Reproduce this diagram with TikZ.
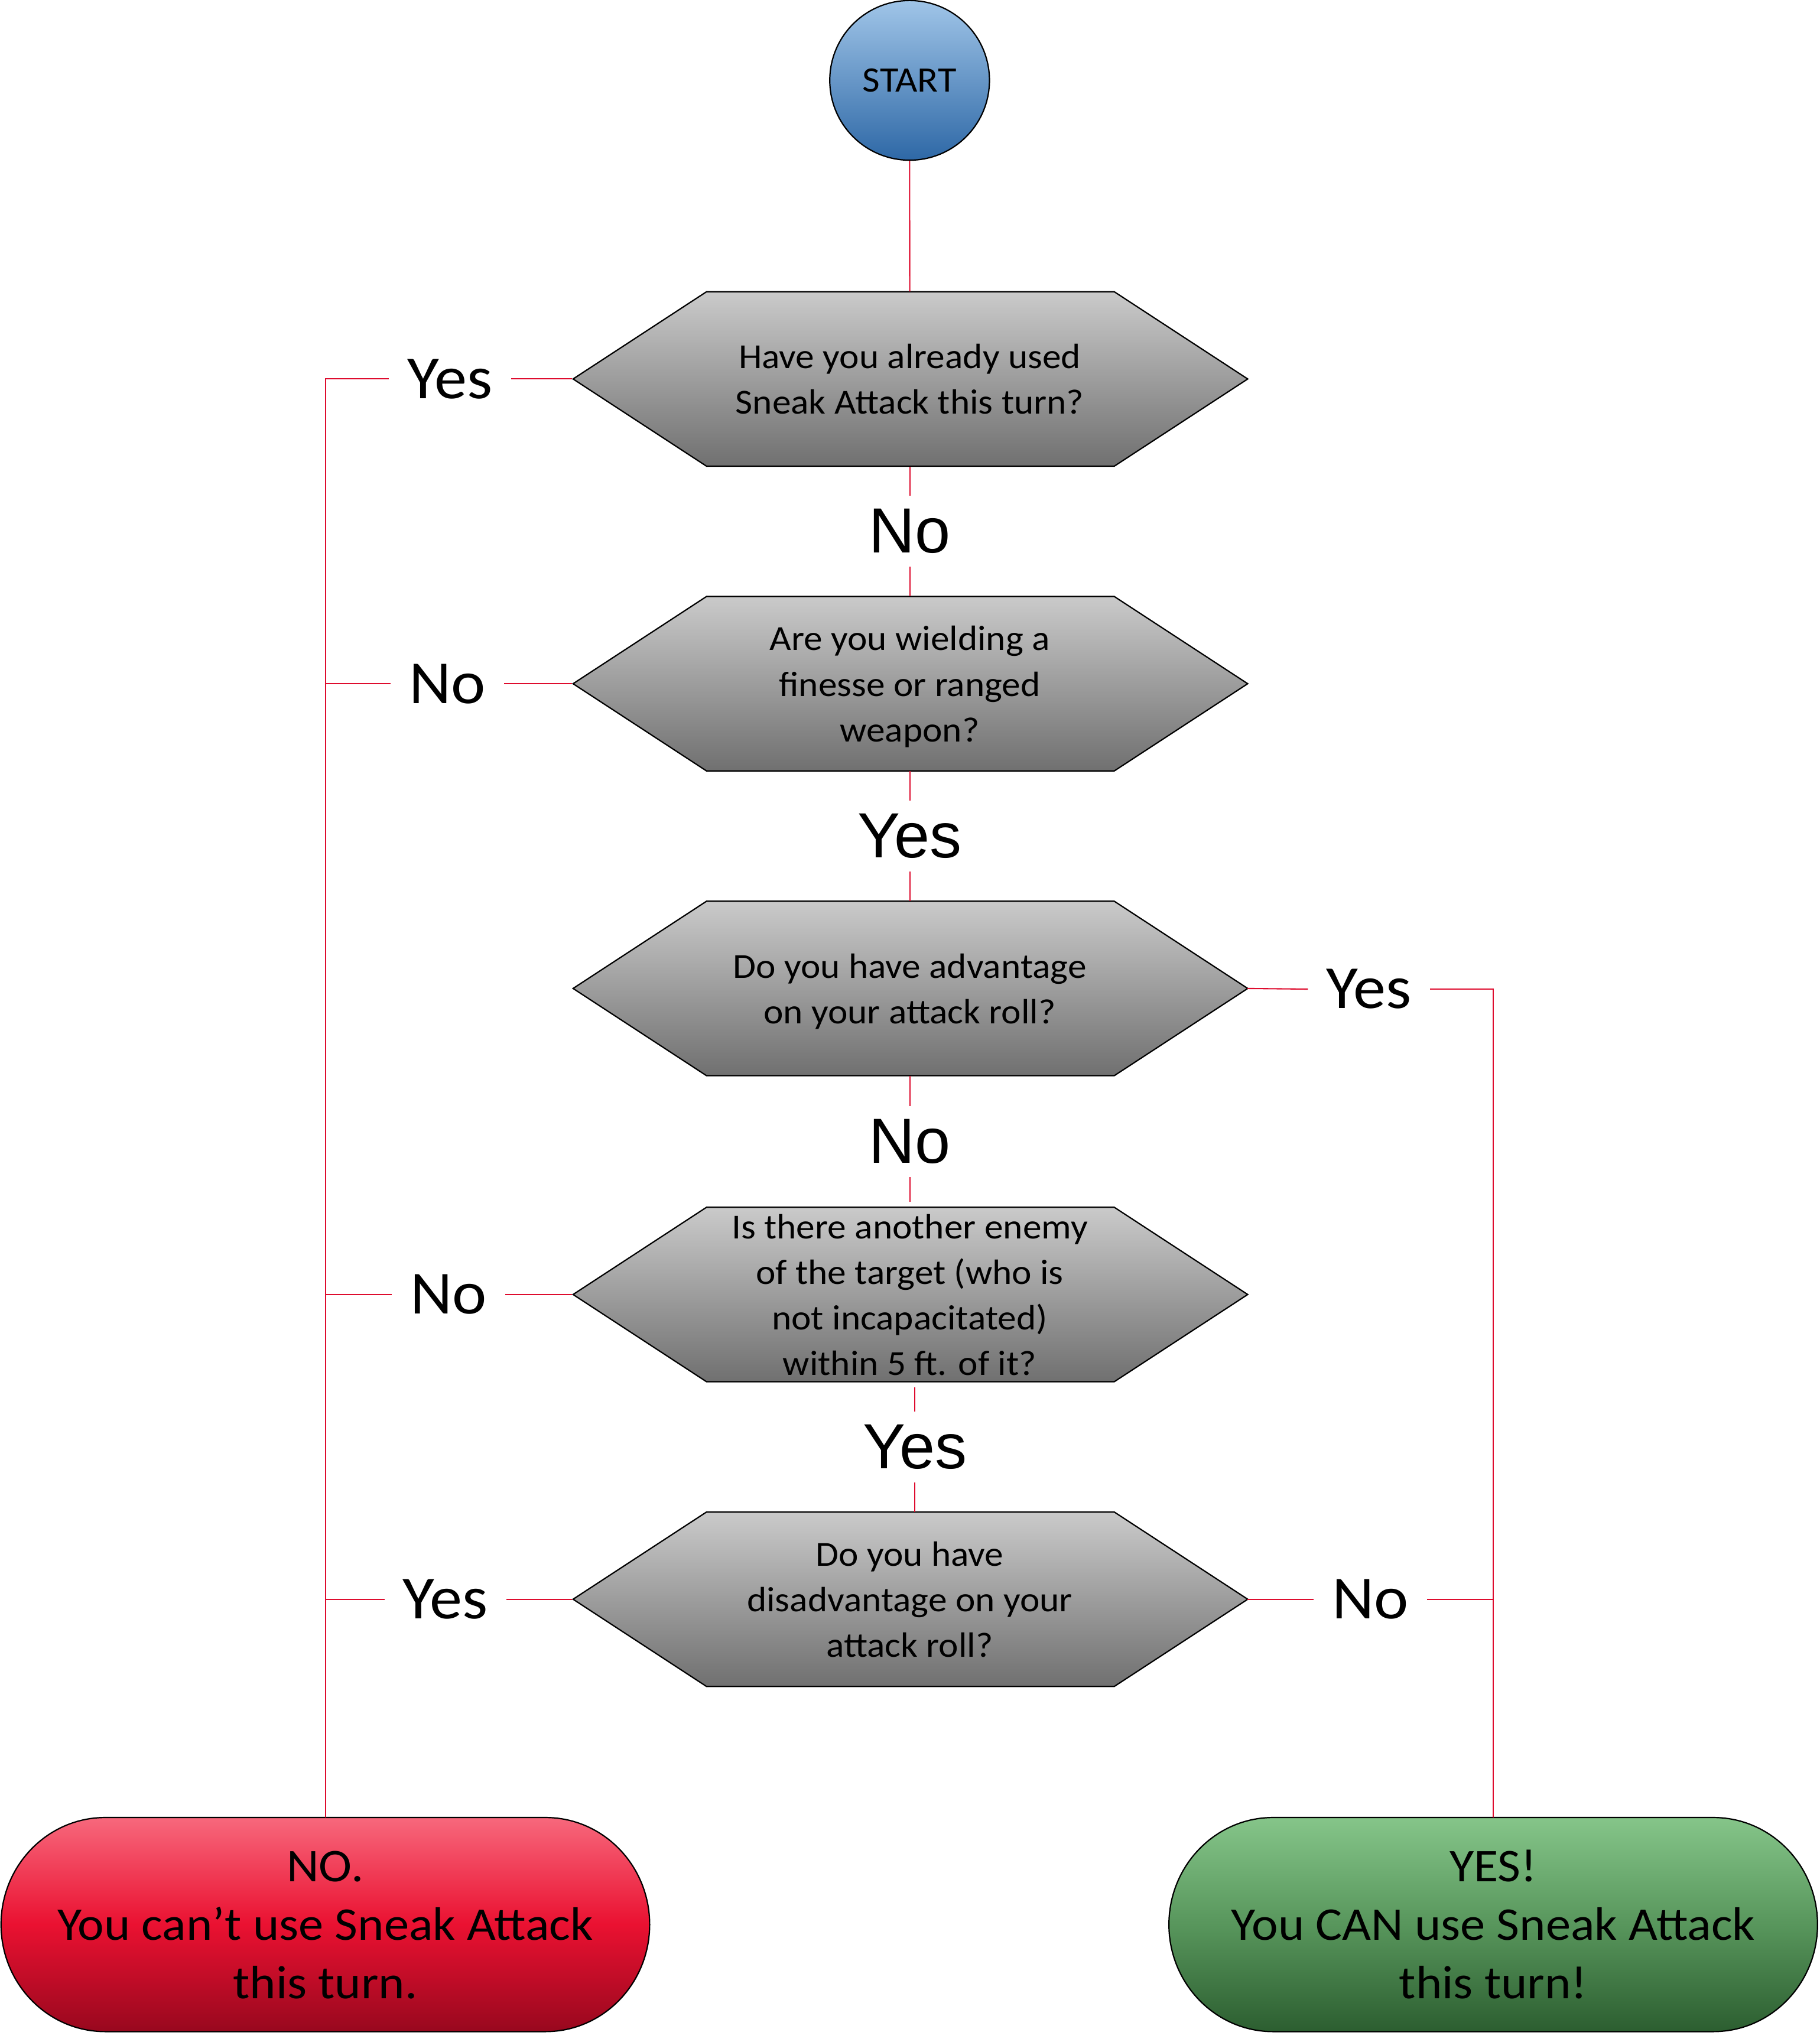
\documentclass[tikz,border=0pt]{standalone}
\usepackage{fontspec}
\setmainfont{Carlito}[FakeStretch=1.065]
\newfontfamily\answerfont{Liberation Sans}

\definecolor{linkred}{RGB}{222,12,46}
\definecolor{greyTop}{RGB}{202,202,202}
\definecolor{greyBot}{RGB}{112,112,112}
\definecolor{blueTop}{RGB}{160,197,232}
\definecolor{blueBot}{RGB}{46,104,166}
\definecolor{redTop}{RGB}{247,104,124}
\definecolor{redMid}{RGB}{234,17,49}
\definecolor{redBot}{RGB}{152,8,30}
\definecolor{greenTop}{RGB}{133,197,137}
\definecolor{greenMid}{RGB}{88,150,92}
\definecolor{greenBot}{RGB}{44,94,48}

% invisible struts that fix the first-line height and last-line depth
\newcommand\qfirst{\rule{0pt}{28pt}}
\newcommand\qlast{\rule[-9pt]{0pt}{9pt}}
\newcommand\tfirst{\rule{0pt}{32pt}}
\newcommand\tlast{\rule[-8pt]{0pt}{8pt}}

% a grey hexagonal question box: name, centre y, text
\newcommand\decision[3]{%
  \path[hexshape] (440,#2) -- ++(102.5,67) -- ++(313,0) -- ++(102.5,-67)
    -- ++(-102.5,-67) -- ++(-313,0) -- cycle;
  \node[qtext, minimum width=518pt, minimum height=134pt] (#1) at (698.5,#2) {#3};
}

% a rounded outcome box: centre x, top colour, middle colour, bottom colour
\newcommand\outcomebox[4]{%
  \path[draw=black, line width=1pt, top color=#2, bottom color=#4, middle color=#3]
    ({#1-169},1395.6) -- ({#1+169},1395.6)
    arc[start angle=90, end angle=-90, x radius=80pt, y radius=82.2pt]
    -- ({#1-169},1560)
    arc[start angle=-90, end angle=-270, x radius=80pt, y radius=82.2pt]
    -- cycle;
}

\begin{document}
\begin{tikzpicture}[x=1pt, y=-1pt,
  link/.style={draw=linkred, line width=0.95pt},
  hexshape/.style={draw=black, line width=1pt, top color=greyTop, bottom color=greyBot},
  qtext/.style={font=\fontsize{27}{35}\selectfont, align=center, inner sep=0pt},
  outtext/.style={font=\fontsize{36}{45}\selectfont, align=center, inner sep=0pt,
    minimum width=498pt, minimum height=164.4pt},
  sidelbl/.style={font=\fontsize{47}{56}\selectfont, inner ysep=0pt, inner xsep=14pt},
  flowlbl/.style={font=\answerfont\fontsize{49}{56}\selectfont, inner xsep=0pt, inner ysep=10pt},
]
\useasboundingbox (0,0) rectangle (1397,1568);

% start
\node[circle, draw=black, line width=1pt, minimum size=122.6pt, inner sep=0pt,
  top color=blueTop, bottom color=blueBot, font=\fontsize{27.5}{33}\selectfont]
  (start) at (698.4,61.7) {START};

% questions
\decision{q1}{291}{\qfirst Have you already used\\Sneak Attack this turn?\qlast}
\decision{q2}{525}{\qfirst Are you wielding a\\finesse or ranged\\weapon?\qlast}
\decision{q3}{759}{\qfirst Do you have advantage\\on your attack roll?\qlast}
\decision{q4}{994}{\qfirst Is there another enemy\\of the target (who is\\not incapacitated)\\within 5 ft. of it?\qlast}
\decision{q5}{1228}{\qfirst Do you have\\disadvantage on your\\attack roll?\qlast}

% outcomes
\outcomebox{249.8}{redTop}{redMid}{redBot}
\node[outtext] (noend) at (249.8,1477.8)
  {\tfirst NO.\\You can’t use Sneak Attack\\this turn.\tlast};
\outcomebox{1146.5}{greenTop}{greenMid}{greenBot}
\node[outtext] (yesend) at (1146.5,1477.8)
  {\tfirst YES!\\You CAN use Sneak Attack\\this turn!\tlast};

% answers along the main column
\node[flowlbl] (v1) at (698.5,408) {No};
\node[flowlbl] (v2) at (698.5,642) {Yes};
\node[flowlbl] (v3) at (698.5,876.5) {No};
\node[flowlbl] (v4) at (702.5,1111) {Yes};

% answers leading to the sides
\node[sidelbl] (a1) at (345.5,291) {Yes};
\node[sidelbl] (a2) at (343.5,525) {No};
\node[sidelbl] (a4) at (344.5,994) {No};
\node[sidelbl] (a5) at (342,1228) {Yes};
\node[sidelbl] (b3) at (1051,759.5) {Yes};
\node[sidelbl] (b5) at (1052,1228) {No};

% main column connectors
\draw[link] (start.south) -- (q1.north);
\draw[link] (q1.south) -- (v1.north);
\draw[link] (v1.south) -- (q2.north);
\draw[link] (q2.south) -- (v2.north);
\draw[link] (v2.south) -- (q3.north);
\draw[link] (q3.south) -- (v3.north);
\draw[link] (v3.south) -- (q4.north);
\draw[link] (q4.south -| v4.north) -- (v4.north);
\draw[link] (v4.south) -- (q5.north -| v4.south);

% left branch to NO
\draw[link] (q1.west) -- (a1.east);
\draw[link] (a1.west) -| (noend.north);
\draw[link] (q2.west) -- (a2.east);
\draw[link] (a2.west) -- (a2.west -| noend.north);
\draw[link] (q4.west) -- (a4.east);
\draw[link] (a4.west) -- (a4.west -| noend.north);
\draw[link] (q5.west) -- (a5.east);
\draw[link] (a5.west) -- (a5.west -| noend.north);

% right branch to YES
\draw[link] (q3.east) -- (b3.west);
\draw[link] (b3.east) -| (yesend.north);
\draw[link] (q5.east) -- (b5.west);
\draw[link] (b5.east) -- (b5.east -| yesend.north);
\end{tikzpicture}
\end{document}
